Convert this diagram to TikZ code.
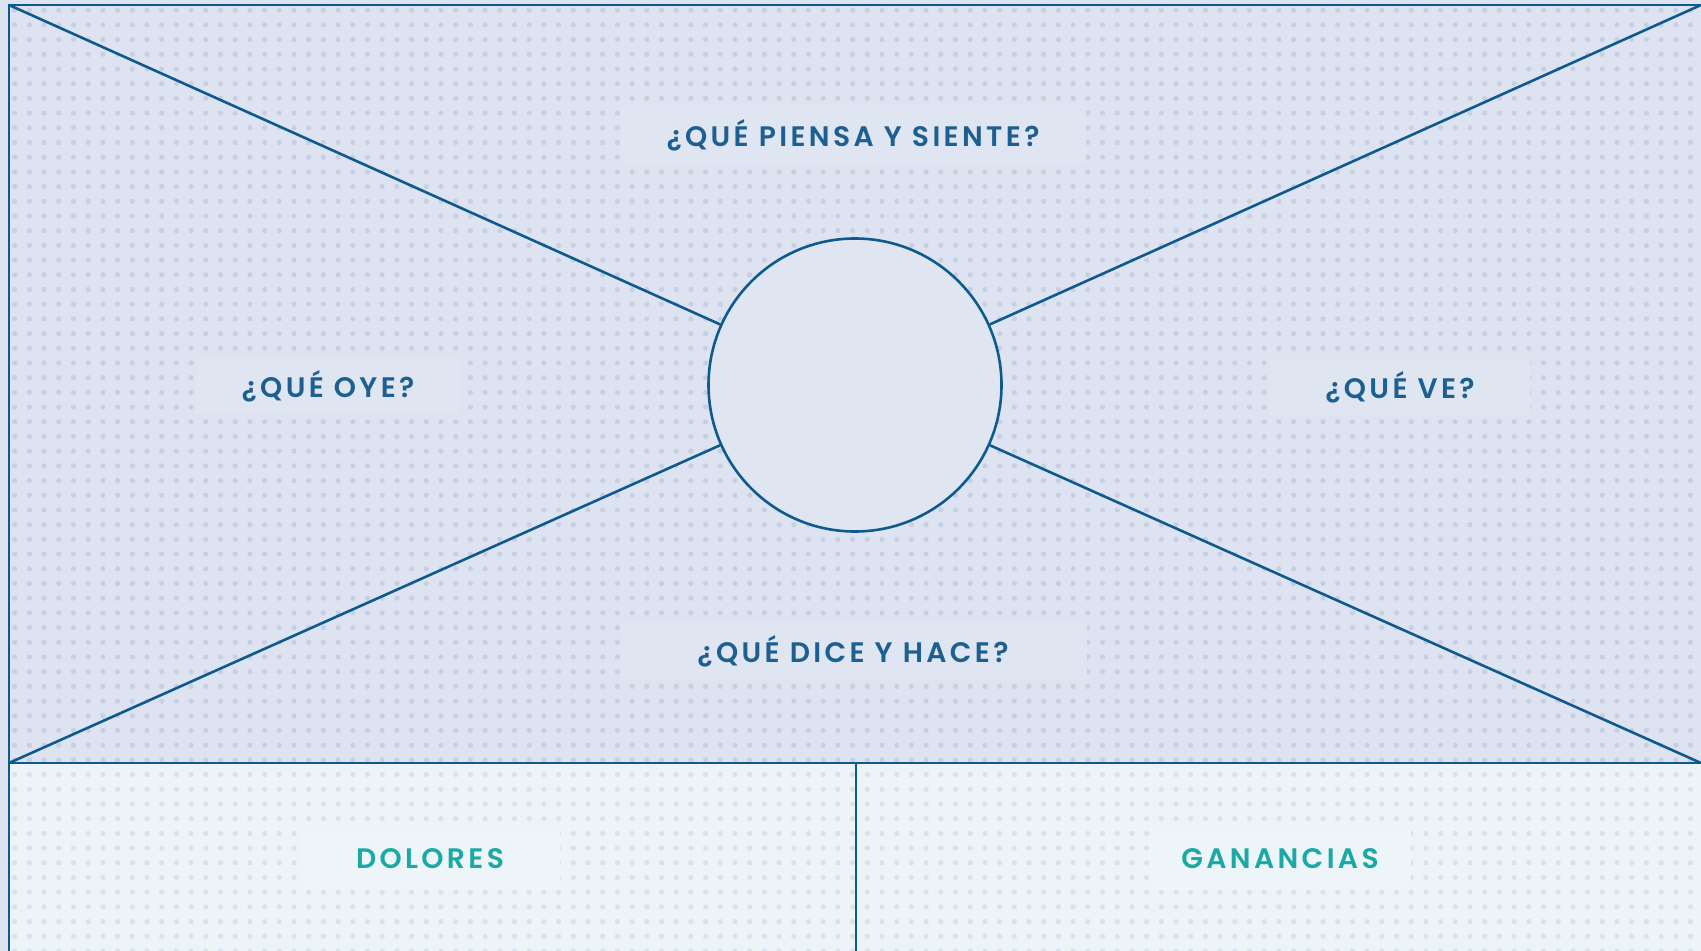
\documentclass[tikz,border=0pt]{standalone}
\usepackage{fontspec}
\setmainfont{Poppins}
\newfontfamily\labfont{Poppins SemiBold}[LetterSpace=12]
\usetikzlibrary{patterns.meta}
\definecolor{bgtop}{HTML}{DDE3F0}
\definecolor{dottop}{HTML}{C7CFE2}
\definecolor{bgbot}{HTML}{EDF4F8}
\definecolor{dotbot}{HTML}{D8E2EC}
\definecolor{boxtop}{HTML}{DFE5F1}
\definecolor{boxbot}{HTML}{EEF5F8}
\definecolor{linec}{HTML}{0F5A8C}
\definecolor{txtblue}{HTML}{1C5F90}
\definecolor{teal}{HTML}{1BA9A6}
\tikzset{
  frame/.style={draw=linec, line width=1.3pt},
  qlabel/.style={fill=boxtop, inner sep=0pt, text=txtblue, font=\fontsize{14.1}{16}\labfont},
  blabel/.style={fill=boxbot, inner sep=0pt, text=teal, font=\fontsize{14.1}{16}\labfont},
}
\begin{document}
\begin{tikzpicture}[x=0.5pt,y=-0.5pt]
\useasboundingbox (0,0) rectangle (1701,951);
% backgrounds
\fill[bgtop] (0,0) rectangle (1701,951);
\fill[bgtop] (9,5) rectangle (1701,763);
\fill[pattern={Dots[distance=7.35pt,radius=1.3pt]}, pattern color=dottop] (9,5) rectangle (1701,763);
\fill[bgbot] (9,763) rectangle (1701,951);
\fill[pattern={Dots[distance=7.35pt,radius=1.3pt]}, pattern color=dotbot] (9,763) rectangle (1701,951);
% corners
\coordinate (tl) at (9,5);
\coordinate (tr) at (1701,5);
\coordinate (bl) at (9,763);
\coordinate (br) at (1701,763);
\coordinate (fb) at (9,951);
\coordinate (mt) at (856,763);
\coordinate (mb) at (856,951);
% centre circle
\node[circle, draw=linec, line width=1.3pt, fill=boxtop, minimum size=146.5pt, inner sep=0pt] (c) at (855,385) {};
\draw[frame] (tl) -- (c);
\draw[frame] (tr) -- (c);
\draw[frame] (bl) -- (c);
\draw[frame] (br) -- (c);
\draw[frame] (fb) -- (tl) -- (tr);
\draw[frame] (bl) -- (br);
\draw[frame] (mt) -- (mb);
% labels
\node[qlabel, minimum width=232.5pt, minimum height=30pt] (piensa) at (853,135) {¿QUÉ PIENSA Y SIENTE?};
\node[qlabel, minimum width=132.5pt, minimum height=28pt] (oye) at (328,386) {¿QUÉ OYE?};
\node[qlabel, minimum width=130pt, minimum height=28pt] (ve) at (1400,387) {¿QUÉ VE?};
\node[qlabel, minimum width=233.5pt, minimum height=29pt] (dice) at (853,651) {¿QUÉ DICE Y HACE?};
\node[blabel, minimum width=130pt, minimum height=31pt] (dolores) at (430,859) {DOLORES};
\node[blabel, minimum width=131pt, minimum height=31pt] (ganancias) at (1280,859) {GANANCIAS};
\end{tikzpicture}
\end{document}
